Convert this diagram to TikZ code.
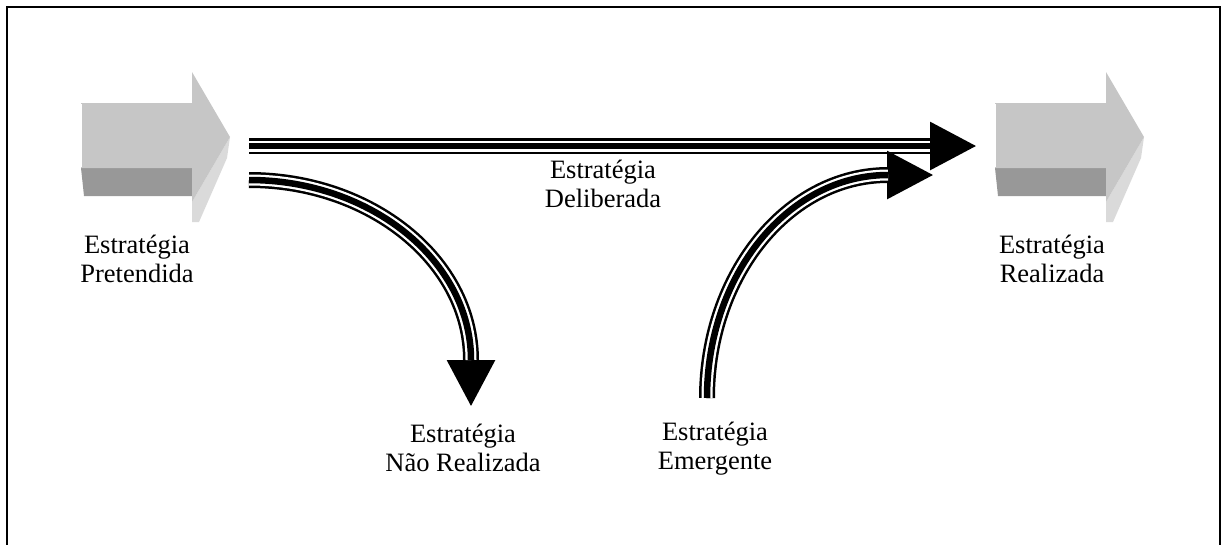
\documentclass[tikz,border=0pt]{standalone}
\usepackage{fontspec}
\setmainfont{Liberation Serif}
\usetikzlibrary{arrows.meta}
\definecolor{facelight}{HTML}{C6C6C6}
\definecolor{facedark}{HTML}{989898}
\definecolor{faceside}{HTML}{DADADA}
\tikzset{
  lbl/.style={anchor=base, align=center, inner sep=0pt, font=\fontsize{26.5}{29}\selectfont},
  triouter/.style={line width=16pt, black},
  triinner/.style={line width=11pt, white},
  tricore/.style={line width=6.5pt, black},
  headtip/.style={-{Triangle[length=47pt,width=45pt]}},
}
\newcommand{\blockarrow}[1]{%
  \begin{scope}[shift={(#1,0)}]
    \fill[facedark] (81,168) -- (192,168) -- (192,196) -- (84,196) -- cycle;
    \fill[faceside] (230,137) -- (227,158) -- (199,222) -- (192,222) -- (192,202) -- cycle;
    \fill[facelight] (81,103) -- (192,103) -- (192,72) -- (230,137) -- (192,202) -- (192,168) -- (81,168) -- cycle;
    \draw[white, line width=1pt] (81.5,104) -- (81.5,167);
  \end{scope}}
\begin{document}
\begin{tikzpicture}[x=1pt,y=-1pt]
\useasboundingbox (0,0) rectangle (1221,544);
\begin{scope}
\clip (0,0) rectangle (1221,544);
\draw[line width=2pt] (6.5,7) rectangle (1219.5,600);
\end{scope}

% 3D block arrows
\blockarrow{0}
\blockarrow{914}

% labels (anchor = baseline of the last line)
\node[lbl] (pret) at (137,282) {Estratégia\\Pretendida};
\node[lbl] (real) at (1052,282) {Estratégia\\Realizada};
\node[lbl] (delib) at (603,207) {Estratégia\\Deliberada};
\node[lbl] (naoreal) at (463,471) {Estratégia\\Não Realizada};
\node[lbl] (emerg) at (715,469) {Estratégia\\Emergente};

% connector coordinates
\coordinate (hs) at (249,146);
\coordinate (he) at (977,146);
\coordinate (ns) at (249,180);
\coordinate (nb) at (471,360);
\coordinate (ne) at (471,407);
\coordinate (es) at (707,398);
\coordinate (eb) at (888,175);
\coordinate (ee) at (934,175);

% deliberate
\draw[triouter, headtip] (hs) -- (he);
\draw[triinner, shorten >=47pt] (hs) -- (he);
\draw[tricore, shorten >=47pt] (hs) -- (he);

% not realized
\draw[triouter, headtip] (ns) .. controls (371,180) and (471,261) .. (nb) -- (ne);
\draw[triinner] (ns) .. controls (371,180) and (471,261) .. (nb);
\draw[tricore] (ns) .. controls (371,180) and (471,261) .. (nb);

% emergent
\draw[triouter, headtip] (es) .. controls (707,275) and (788,175) .. (eb) -- (ee);
\draw[triinner] (es) .. controls (707,275) and (788,175) .. (eb);
\draw[tricore] (es) .. controls (707,275) and (788,175) .. (eb);
\end{tikzpicture}
\end{document}
